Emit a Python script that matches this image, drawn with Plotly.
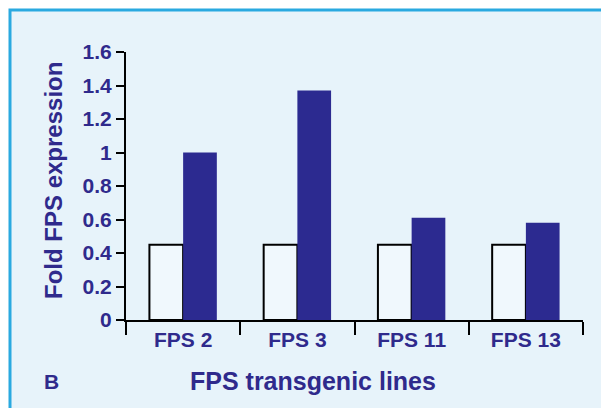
import plotly.graph_objects as go

# Data
lines = ["FPS 2", "FPS 3", "FPS 11", "FPS 13"]
control = [0.45, 0.45, 0.45, 0.45]
transgenic = [1.0, 1.37, 0.61, 0.58]
y_ticks = [0, 0.2, 0.4, 0.6, 0.8, 1.0, 1.2, 1.4, 1.6]

TEXT = "#2f2a8c"
BAR = "#2c2a90"
FONT = "Liberation Sans, Arial, sans-serif"

W, H = 601, 408
ML, MR, MT, MB = 126, 18, 52, 88
PW = W - ML - MR
PH = H - MT - MB


def px(x):
    return (x - ML) / PW


def py(y):
    return (H - MB - y) / PH


fig = go.Figure()
fig.add_trace(go.Bar(
    x=lines, y=control, name="control",
    marker=dict(color="rgba(240,248,253,1)", line=dict(color="black", width=2)),
))
fig.add_trace(go.Bar(
    x=lines, y=transgenic, name="transgenic",
    marker=dict(color=BAR, line=dict(color=BAR, width=0)),
))

fig.update_layout(
    width=W, height=H,
    margin=dict(l=ML, r=MR, t=MT, b=MB),
    paper_bgcolor="white",
    plot_bgcolor="rgba(0,0,0,0)",
    barmode="group", bargap=0.41, bargroupgap=0,
    showlegend=False,
    font=dict(family=FONT, color=TEXT),
    shapes=[
        dict(type="rect", xref="paper", yref="paper", layer="below",
             x0=px(10), x1=px(620), y0=py(10), y1=py(420),
             fillcolor="#e7f3fa", line=dict(color="#2aa9e0", width=3)),
    ],
    annotations=[
        dict(text="<b>Fold FPS expression</b>", xref="paper", yref="paper",
             x=px(53), y=py(181), xanchor="center", yanchor="middle",
             textangle=-90, showarrow=False,
             font=dict(size=24, color=TEXT, family=FONT)),
        dict(text="<b>FPS transgenic lines</b>", xref="paper", yref="paper",
             x=px(313), y=py(381), xanchor="center", yanchor="middle",
             showarrow=False,
             font=dict(size=25, color=TEXT, family=FONT)),
        dict(text="<b>B</b>", xref="paper", yref="paper",
             x=px(51), y=py(381), xanchor="center", yanchor="middle",
             showarrow=False,
             font=dict(size=21, color=TEXT, family=FONT)),
    ],
)

fig.update_xaxes(
    type="category", tickson="boundaries", ticks="outside", ticklen=13,
    tickwidth=2, tickcolor="black", showline=True, linecolor="black",
    linewidth=2, showgrid=False, zeroline=False,
    tickfont=dict(size=21, color=TEXT, family=FONT, weight="bold"),
)
fig.update_yaxes(
    range=[0, 1.6], tickvals=y_ticks, ticks="outside", ticklen=8,
    tickwidth=2, tickcolor="black", showline=True, linecolor="black",
    linewidth=2, showgrid=False, zeroline=False,
    tickfont=dict(size=21, color=TEXT, family=FONT, weight="bold"),
)

fig.write_html("out.html")
